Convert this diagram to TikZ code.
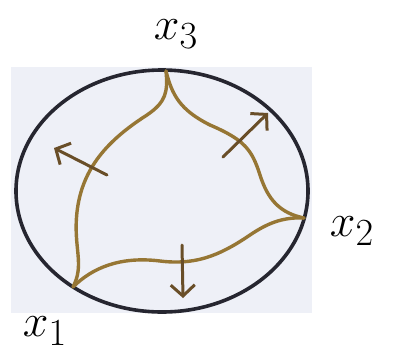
\documentclass[tikz,border=0pt]{standalone}
\usepackage{tikz}
\usepackage{xcolor}
\usetikzlibrary{arrows.meta}
\definecolor{paper}{RGB}{238,240,247}
\definecolor{inkdark}{RGB}{38,38,48}
\definecolor{inkbrown}{RGB}{150,118,52}
\definecolor{arrowbrown}{RGB}{105,78,40}

\tikzset{
  rim/.style={draw=inkdark,line width=3.6pt},
  front/.style={draw=inkbrown,line width=3.4pt,line cap=round},
  push/.style={draw=arrowbrown,line width=3pt,line cap=round,-{Straight Barb[length=11pt,width=24pt]}},
  vlabel/.style={font=\Huge,scale=1.85}
}

\begin{document}
\begin{tikzpicture}[x=1pt,y=-1pt]
\useasboundingbox (0,0) rectangle (393,360);
% paper
\fill[paper] (11,67) rectangle (312,313);

% vertices
\coordinate (x3) at (166,71);
\coordinate (x2) at (304,218);
\coordinate (x1) at (73,287);

% outer curve
\draw[rim] (162,191) ellipse [x radius=146,y radius=121];

% inner fronts
\draw[front] (x3) .. controls (168,92) and (166,102) .. (147,115) .. controls (108,140) and (82,168) .. (77,212) .. controls (73,248) and (85,264) .. (x1);
\draw[front] (x3) .. controls (172,95) and (180,110) .. (210,125) .. controls (245,140) and (252,150) .. (260,175) .. controls (268,200) and (280,213) .. (x2);
\draw[front] (x1) .. controls (92,268) and (120,256) .. (160,261) .. controls (200,266) and (225,252) .. (253,233) .. controls (270,222) and (285,217) .. (x2);

% arrows
\coordinate (a1) at (107,175);
\coordinate (b1) at (54,148);
\coordinate (a2) at (223,157);
\coordinate (b2) at (268,113);
\coordinate (a3) at (182,245);
\coordinate (b3) at (183,298);
\draw[push] (a1) -- (b1);
\draw[push] (a2) -- (b2);
\draw[push] (a3) -- (b3);

% labels
\node[vlabel] (l3) at (176,34) {$x_3$};
\node[vlabel] (l2) at (352,231) {$x_2$};
\node[vlabel] (l1) at (45,331) {$x_1$};
\end{tikzpicture}
\end{document}
